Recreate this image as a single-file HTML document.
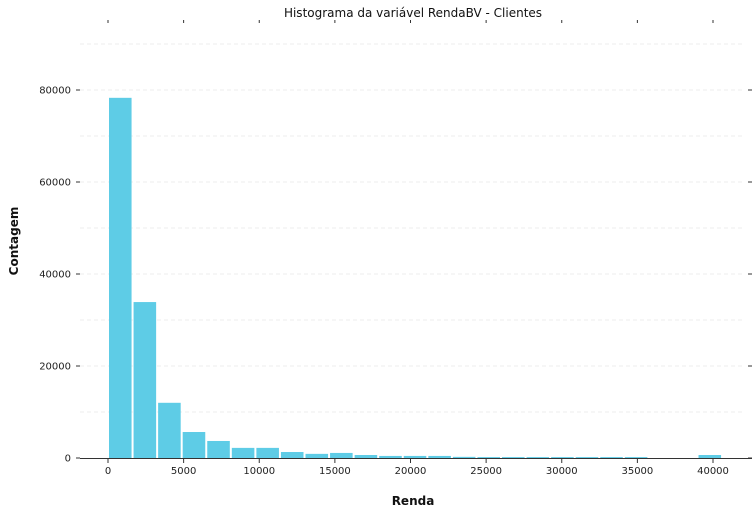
<!DOCTYPE html>
<html><head><meta charset="utf-8"><style>
body{margin:0;background:#fff;font-family:"Liberation Sans",sans-serif}
text{font-family:"DejaVu Sans","Liberation Sans",sans-serif}
</style></head><body>
<svg id="c" width="755" height="515">
<text x="413" y="17" text-anchor="middle" font-size="12" fill="#111">Histograma da variável RendaBV - Clientes</text>
<text x="413" y="505" text-anchor="middle" font-size="12" font-weight="bold" fill="#111">Renda</text>
<text x="18" y="241" text-anchor="middle" font-size="12" font-weight="bold" fill="#111" transform="rotate(-90 18 241)">Contagem</text>
<g id="grid"></g><g id="bars"></g><g id="axes"></g>
</svg>
<script>
const binStart = 0;
const binWidth = 1624;
const counts = [78300,33900,12000,5650,3700,2200,2200,1300,900,1100,650,450,450,450,250,200,200,200,200,200,200,200,0,0,650];
const xTicks = [0,5000,10000,15000,20000,25000,30000,35000,40000];
const yTicks = [0,20000,40000,60000,80000];
const gridVals = [10000,20000,30000,40000,50000,60000,70000,80000,90000];
const NS="http://www.w3.org/2000/svg";
const xs=v=>108+v*(713-108)/40000;
const ys=v=>458-v*(458-90)/80000;
function mk(t,a,p){const e=document.createElementNS(NS,t);for(const k in a)e.setAttribute(k,a[k]);document.getElementById(p).appendChild(e);return e;}
gridVals.forEach(v=>{const l=mk('line',{x1:80,x2:745,y1:ys(v),y2:ys(v),stroke:'#eee','stroke-dasharray':'4,3','stroke-width':1},'grid');

});
counts.forEach((c,i)=>{if(c<=0)return;const x0=xs(binStart+i*binWidth),x1=xs(binStart+(i+1)*binWidth);
const r=mk('rect',{x:x0+1,y:ys(c),width:x1-x0-2,height:458-ys(c),fill:'#5ecce6'},'bars');

});
const ax=mk('line',{x1:80,x2:752,y1:458.5,y2:458.5,stroke:'#333'},'axes');


xTicks.forEach(v=>{const x=xs(v);
mk('line',{x1:x,x2:x,y1:458,y2:463,stroke:'#333'},'axes');
mk('line',{x1:x,x2:x,y1:20,y2:23,stroke:'#333'},'axes');
const t=mk('text',{x:x,y:474,'text-anchor':'middle','font-size':10,fill:'#222'},'axes');t.textContent=v;

});
yTicks.forEach(v=>{const y=ys(v);
mk('line',{x1:76,x2:80,y1:y,y2:y,stroke:'#333'},'axes');
mk('line',{x1:748,x2:752,y1:y,y2:y,stroke:'#333'},'axes');
const t=mk('text',{x:71,y:y+3.5,'text-anchor':'end','font-size':10,fill:'#222'},'axes');t.textContent=v;

});
</script>
</body></html>
